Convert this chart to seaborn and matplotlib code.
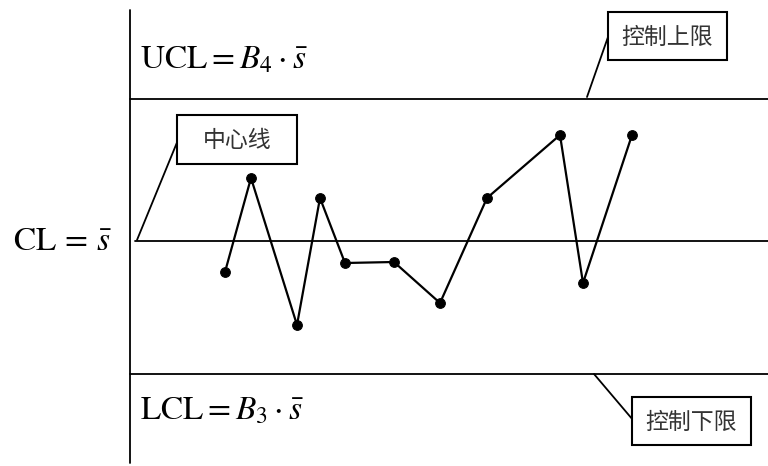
import matplotlib
matplotlib.use("Agg")
import matplotlib.pyplot as plt
import seaborn as sns
import pandas as pd
from matplotlib.patches import Rectangle

# ---- data (sample position, deviation of s from centre line) ----
sample_x = [225, 251, 297, 320, 345, 394, 440, 487, 560, 583, 632]
s_values = [-31, 63, -84, 43, -22, -21, -62, 43, 106, -42, 106]
ucl_value = 142
cl_value = 0
lcl_value = -133

labels_limits = ["控制上限", "中心线", "控制下限"]

sns.set_theme(style="white")
plt.rcParams["font.family"] = ["Noto Sans CJK SC", "DejaVu Sans"]
plt.rcParams["mathtext.fontset"] = "stix"

fig = plt.figure(figsize=(7.68, 4.66), dpi=100)
ax = fig.add_axes([0, 0, 1, 1])
ax.set_xlim(0, 768)
ax.set_ylim(241 - 466, 241)
ax.axis("off")

df = pd.DataFrame({"x": sample_x, "s": s_values})
sns.lineplot(data=df, x="x", y="s", ax=ax, color="black", lw=1.6,
             marker="o", markersize=7, markeredgecolor="black",
             markerfacecolor="black", sort=False)

# vertical axis line
ax.plot([130, 130], [241 - 10, 241 - 463], color="black", lw=1.3)
# control lines
ax.plot([130, 768], [ucl_value, ucl_value], color="black", lw=1.3)
ax.plot([135, 768], [cl_value, cl_value], color="black", lw=1.3)
ax.plot([130, 768], [lcl_value, lcl_value], color="black", lw=1.3)

# formulas
ax.text(140, 241 - 59, r"$\mathrm{UCL} = B_4 \cdot \bar{s}$", fontsize=24,
        ha="left", va="center", color="black")
ax.text(13, 0, r"$\mathrm{CL}\,=\,\bar{s}$", fontsize=24,
        ha="left", va="center", color="black")
ax.text(140, 241 - 410, r"$\mathrm{LCL} = B_3 \cdot \bar{s}$", fontsize=24,
        ha="left", va="center", color="black")

def box(x0, y0, x1, y1, text):
    ax.add_patch(Rectangle((x0, 241 - y1), x1 - x0, y1 - y0, fc="white",
                           ec="black", lw=1.5, zorder=5))
    ax.text((x0 + x1) / 2, 241 - (y0 + y1) / 2 - 1, text, fontsize=16.5,
            ha="center", va="center", color="#333333", zorder=6)

# leader lines
ax.plot([587, 608], [241 - 97, 241 - 37], color="black", lw=1.3)
ax.plot([137, 178], [241 - 240, 241 - 140], color="black", lw=1.3)
ax.plot([594, 633], [241 - 374, 241 - 420], color="black", lw=1.3)

box(608, 12, 727, 60, labels_limits[0])
box(177, 115, 297, 164, labels_limits[1])
box(632, 397, 751, 445, labels_limits[2])

fig.savefig("out.png", dpi=100)
